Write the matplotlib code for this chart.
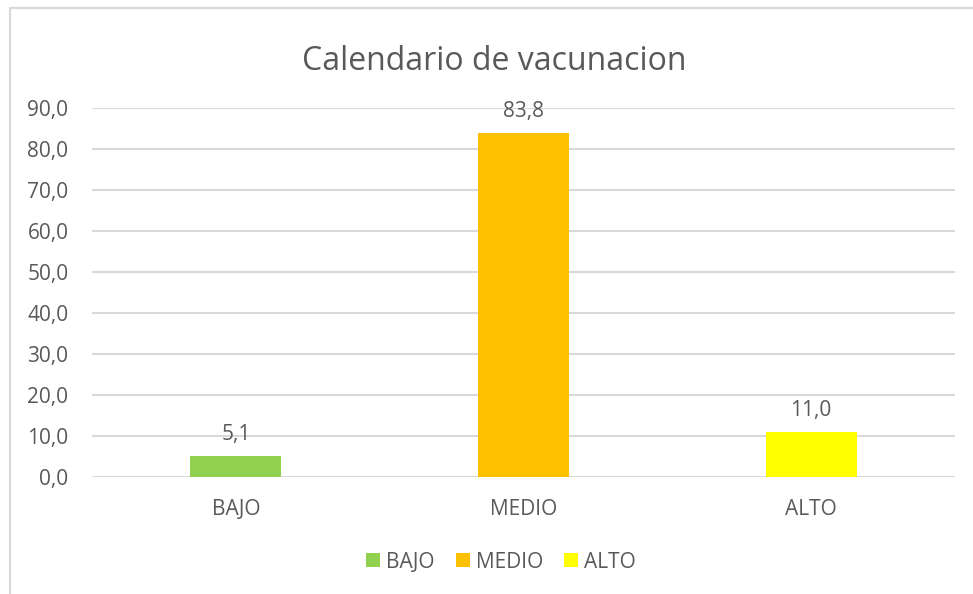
import matplotlib.pyplot as plt
from matplotlib.patches import Rectangle

# data
categorias = ['BAJO', 'MEDIO', 'ALTO']
valores = [5.1, 83.8, 11.0]
colores = ['#92D050', '#FFC000', '#FFFF00']
yticks = [0, 10, 20, 30, 40, 50, 60, 70, 80, 90]

gris_texto = '#595959'
plt.rcParams['font.family'] = ['Open Sans', 'DejaVu Sans']

W, H = 973, 594
fig = plt.figure(figsize=(W / 100, H / 100), dpi=100)
# plot area in pixels: x 92..955, y 108 (90) .. 477 (0)
ax = fig.add_axes([92 / W, 1 - 477 / H, (955 - 92) / W, (477 - 108) / H])

# chart border (goes past the right / bottom edge of the image)
fig.patches.append(Rectangle((10 / W, -0.05), 1.05, 1 - 8 / H + 0.05,
                             transform=fig.transFigure, fill=False,
                             edgecolor='#D9D9D9', linewidth=1.5, clip_on=False))

xs = list(range(len(categorias)))
bars = ax.bar(xs, valores, width=0.316, color=colores, zorder=3)

for x, v in zip(xs, valores):
    ax.annotate(f'{v:.1f}'.replace('.', ','), (x, v), xytext=(0, 8),
                textcoords='offset points', ha='center', va='bottom',
                fontsize=15, color=gris_texto)

ax.set_xlim(-0.5, 2.5)
ax.set_ylim(0, 90)
ax.set_yticks(yticks)
ax.set_yticklabels([f'{t:.1f}'.replace('.', ',') for t in yticks])
ax.set_xticks(xs)
ax.set_xticklabels(categorias)
ax.tick_params(axis='both', length=0, labelsize=15, colors=gris_texto)
ax.tick_params(axis='y', pad=17)
ax.tick_params(axis='x', pad=16)
ax.grid(axis='y', color='#D9D9D9', linewidth=1.5, zorder=0)
for s in ax.spines.values():
    s.set_visible(False)

fig.text(494 / W, 1 - 62 / H, 'Calendario de vacunacion', ha='center', va='center',
         fontsize=23, color=gris_texto)

leg = fig.legend(bars, categorias, loc='center', bbox_to_anchor=(501 / W, 1 - 562 / H),
                 ncol=3, frameon=False, fontsize=15, handlelength=0.67,
                 handleheight=0.67, handletextpad=0.3, columnspacing=1.0)
for t in leg.get_texts():
    t.set_color(gris_texto)

fig.savefig('out.png', dpi=100)
